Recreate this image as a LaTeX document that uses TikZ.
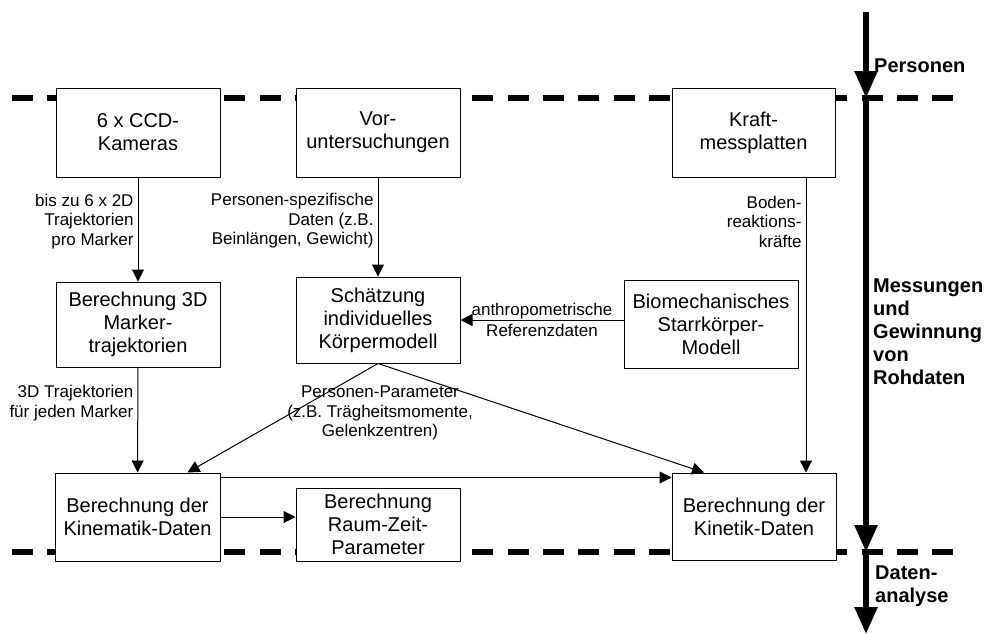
\documentclass[tikz,border=0pt]{standalone}
\usepackage{fontspec}
\setmainfont{Liberation Sans}
\usepackage{tikz}
\usetikzlibrary{arrows.meta, positioning, calc}
\newcommand{\boxfont}{\fontsize{20}{23}\selectfont}
\newcommand{\lblfont}{\fontsize{17}{19.5}\selectfont}
\newcommand{\sidefont}{\bfseries\fontsize{20}{23}\selectfont}
\tikzset{
  box/.style={draw, fill=white, line width=1pt, align=center, font=\boxfont, inner sep=2pt},
  conn/.style={line width=1pt, -{Triangle[length=12pt, width=12pt]}},
  lbl/.style={align=right, font=\lblfont, inner sep=4pt},
  sepline/.style={line width=6.5pt, dash pattern=on 21pt off 14.4pt},
  bigarrow/.style={line width=5.5pt, -{Triangle[length=27pt, width=22pt]}},
  side/.style={align=left, font=\sidefont, anchor=west, inner sep=0pt}
}

\begin{document}
\begin{tikzpicture}[x=1pt, y=-1pt]
  \useasboundingbox (0,0) rectangle (988,633);

  % phase borders
  \draw[sepline] (12,98) -- (955,98);
  \draw[sepline] (12,552) -- (955,552);

  % boxes
  \node[box, minimum width=164pt, minimum height=89pt] (cam) at (138,132.5) {6 x CCD-\\Kameras};
  \node[box, minimum width=164pt, minimum height=89pt] (vor) at (378,132.5) {Vor-\\untersuchungen};
  \node[box, minimum width=163pt, minimum height=89pt] (kraft) at (753.5,132.5) {Kraft-\\messplatten};
  \node[box, minimum width=164pt, minimum height=85pt] (ber3d) at (138,324.5) {Berechnung 3D\\Marker-\\trajektorien};
  \node[box, minimum width=164pt, minimum height=86pt] (schaetz) at (378,320) {Schätzung\\individuelles\\Körpermodell};
  \node[box, minimum width=174pt, minimum height=88pt] (biomech) at (711,324) {Biomechanisches\\Starrkörper-\\Modell};
  \node[box, minimum width=165pt, minimum height=88pt] (kinem) at (137.5,517) {Berechnung der\\Kinematik-Daten};
  \node[box, minimum width=164pt, minimum height=73pt, inner sep=0pt] (raumzeit) at (378,524.5) {Berechnung\\Raum-Zeit-\\Parameter};
  \node[box, minimum width=164pt, minimum height=87pt] (kinetik) at (754,516.5) {Berechnung der\\Kinetik-Daten};

  % data flow
  \draw[conn] (cam) -- (ber3d)
    node[lbl, pos=.42, left] {bis zu 6 x 2D\\Trajektorien\\pro Marker};
  \draw[conn] (vor) -- (schaetz)
    node[lbl, pos=.44, left] {Personen-spezifische\\Daten (z.B.\\Beinlängen, Gewicht)};
  \draw[conn] ([xshift=52.5pt]kraft.south) -- ([xshift=52pt]kinetik.north)
    node[lbl, pos=.15, left] {Boden-\\reaktions-\\kräfte};
  \draw[conn] (biomech.west |- schaetz.east) -- (schaetz.east)
    node[midway, align=center, font=\lblfont, inner sep=0pt] {anthropometrische\\[2pt]Referenzdaten};
  \draw[conn] (ber3d) -- (kinem)
    node[lbl, pos=.34, left] {3D Trajektorien\\für jeden Marker};
  \draw[conn] (schaetz.south) -- ([xshift=50pt]kinem.north);
  \draw[conn] (schaetz.south) -- ([xshift=-50pt]kinetik.north);
  \node[align=center, font=\lblfont] (ppar) at (380,413) {Personen-Parameter\\(z.B. Trägheitsmomente,\\Gelenkzentren)};
  \draw[conn] ([yshift=-5pt]kinem.north east) -- ([yshift=-5pt]kinetik.north west);
  \draw[conn] (kinem.east) -- (kinem.east -| raumzeit.west);

  % phases
  \coordinate (ptop) at (866,12);
  \coordinate (pmid) at (866,98);
  \coordinate (pbot) at (866,552);
  \coordinate (pend) at (866,634);
  \draw[bigarrow] (ptop) -- (pmid);
  \draw[bigarrow] (pmid) -- (pbot);
  \draw[bigarrow] (pbot) -- (pend);
  \node[side] (pers) at (874,66) {Personen};
  \node[side] (mess) at (873,332) {Messungen\\und\\Gewinnung\\von\\Rohdaten};
  \node[side] (analyse) at (875,586) {Daten-\\analyse};
\end{tikzpicture}
\end{document}
